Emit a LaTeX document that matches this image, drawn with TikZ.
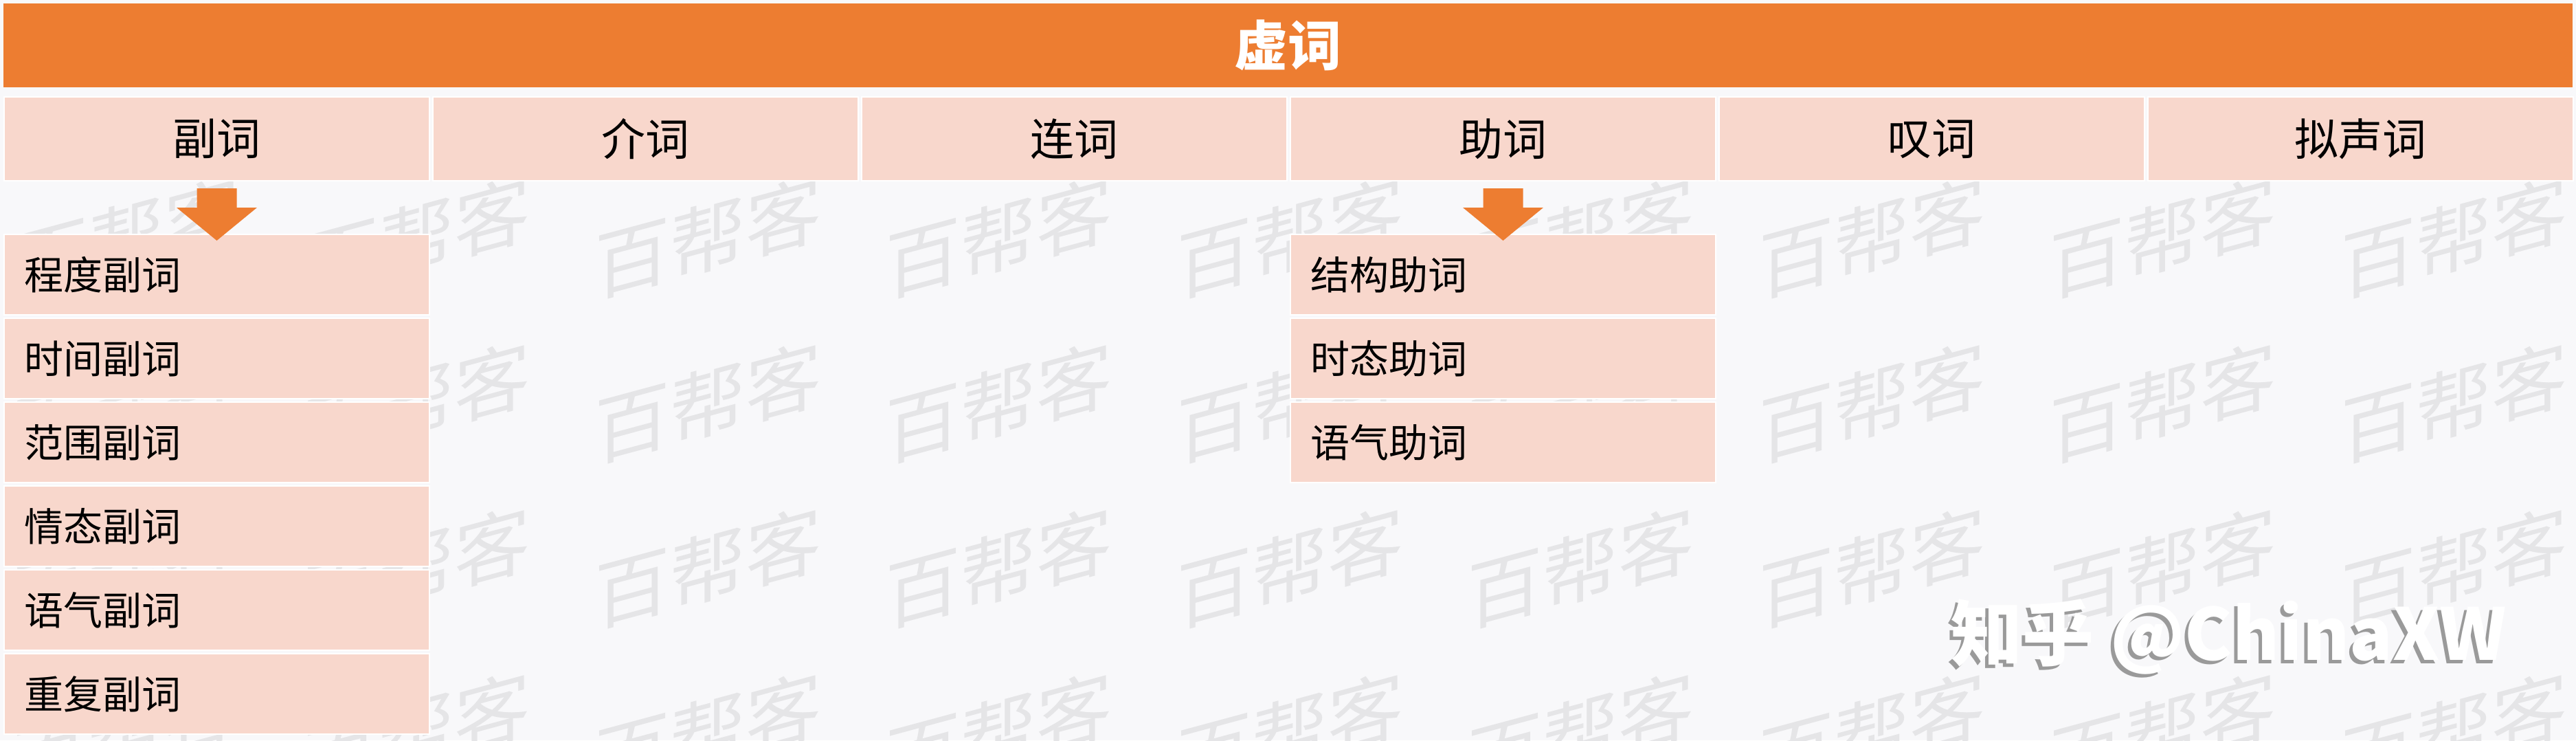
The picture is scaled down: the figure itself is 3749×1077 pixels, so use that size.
\documentclass[tikz,border=0pt]{standalone}
\usepackage{fontspec}
\setmainfont{Noto Sans CJK SC}
\usetikzlibrary{calc}
\definecolor{orangeM}{HTML}{ED7D31}
\definecolor{pinkM}{HTML}{F8D7CC}
\definecolor{bgM}{HTML}{F8F8FA}
\definecolor{wmM}{HTML}{E5E5E7}
\definecolor{shadowM}{HTML}{9A9A9A}
\begin{document}
\begin{tikzpicture}[x=1pt,y=1pt,
  titlebox/.style={fill=orangeM, draw=none, minimum width=3739pt, minimum height=122pt,
    inner sep=0pt, text=white, font=\fontsize{78}{82}\selectfont\bfseries, anchor=north west},
  headbox/.style={fill=pinkM, draw=white, line width=2pt, minimum width=619pt, minimum height=122pt,
    inner sep=0pt, font=\fontsize{64}{70}\selectfont, anchor=north west},
  subbox/.style={fill=pinkM, draw=white, line width=2pt, minimum height=117pt, text width=561pt,
    inner xsep=29pt, inner ysep=0pt, align=left, font=\fontsize{57}{62}\selectfont, anchor=north west},
  wmstyle/.style={transform shape, yslant=0.27, text=wmM, font=\fontsize{110}{116}\selectfont, inner sep=0pt},
  downarrow/.style={fill=orangeM, draw=none}
]
\useasboundingbox (0,0) rectangle (3749,-1077);
\fill[bgM] (0,0) rectangle (3749,-1077);

% watermark
\foreach \i in {-2,...,6}{
  \foreach \j in {0,...,3}{
    \pgfmathsetmacro\wx{1030+423.5*\i}
    \pgfmathsetmacro\wy{-345-240*\j}
    \begin{scope}[shift={(\wx,\wy)}]
      \node[wmstyle] (wm\i\j) at (0,0) {百帮客};
    \end{scope}
  }
}

% title
\node[titlebox] (top) at (5,-5) {虚词};

% header row
\node[headbox] (h1) at (5,-140) {副词};
\node[headbox] (h2) at (629,-140) {介词};
\node[headbox] (h3) at (1253,-140) {连词};
\node[headbox] (h4) at (1877,-140) {助词};
\node[headbox] (h5) at (2501,-140) {叹词};
\node[headbox] (h6) at (3125,-140) {拟声词};

% adverb column
\node[subbox] (a1) at (5,-340) {程度副词};
\node[subbox] (a2) at (5,-462) {时间副词};
\node[subbox] (a3) at (5,-584) {范围副词};
\node[subbox] (a4) at (5,-706) {情态副词};
\node[subbox] (a5) at (5,-828) {语气副词};
\node[subbox] (a6) at (5,-950) {重复副词};

% particle column
\node[subbox] (p1) at (1877,-340) {结构助词};
\node[subbox] (p2) at (1877,-462) {时态助词};
\node[subbox] (p3) at (1877,-584) {语气助词};

% block arrows
\foreach \h/\s in {h1/a1, h4/p1}{
  \fill[downarrow]
    ($(\h.south)+(-29,-10)$) -- ($(\h.south)+(29,-10)$) -- ($(\h.south)+(29,-38)$)
    -- ($(\h.south)+(58.5,-38)$) -- ($(\s.north)+(0,-10)$)
    -- ($(\h.south)+(-58.5,-38)$) -- ($(\h.south)+(-29,-38)$) -- cycle;
}

% zhihu watermark
\node[text=shadowM, font=\fontsize{104}{110}\selectfont\bfseries, inner sep=0pt] (zhs) at (3239,-931) {知乎 @ChinaXW};
\node[text=white, font=\fontsize{104}{110}\selectfont\bfseries, inner sep=0pt] (zh) at (3244,-926) {知乎 @ChinaXW};
\end{tikzpicture}
\end{document}
